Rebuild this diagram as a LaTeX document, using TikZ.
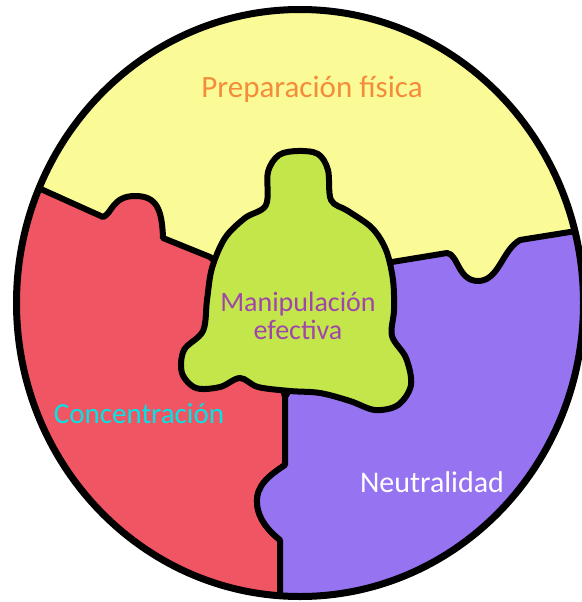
\documentclass[tikz,border=0pt]{standalone}
\usepackage{fontspec}
\setmainfont{Carlito}
\definecolor{yellowpiece}{RGB}{250,250,150}
\definecolor{redpiece}{RGB}{240,85,100}
\definecolor{purplepiece}{RGB}{150,115,240}
\definecolor{greenpiece}{RGB}{195,230,75}
\definecolor{prepcolor}{RGB}{245,140,60}
\definecolor{manicolor}{RGB}{160,70,170}
\definecolor{conccolor}{RGB}{0,230,230}
\usetikzlibrary{calc}

\begin{document}
\begin{tikzpicture}[
    x=1pt, y=-1pt,   % pixel units, y pointing down
    piece/.style={draw=black, line width=6pt, line join=round},
    txt/.style={font=\fontsize{#1}{#1}\selectfont, inner sep=0pt},
    txt/.default=26
]
    \useasboundingbox (0,0) rectangle (581,602);

    % --- Puzzle pieces, clipped to the disc ---
    \begin{scope}
        \clip (300,303) ellipse [x radius=283.5, y radius=293.5];
        \fill[yellowpiece] (0,0) rectangle (620,620);
        % Red piece (left)
        \draw[piece, fill=redpiece] (-20,162) -- (43,190) -- (103,217)
            .. controls (112,214) and (112,196) .. (135,196)
            .. controls (156,196) and (162,208) .. (163,238)
            -- (210,257) -- (260,300) -- (285,397) -- (285,465)
            .. controls (270,475) and (256,485) .. (257,503)
            .. controls (258,520) and (270,532) .. (280,540)
            -- (280,620) -- (-20,620) -- cycle;
        % Purple piece (right)
        \draw[piece, fill=purplepiece] (620,224) -- (520,240)
            .. controls (502,250) and (499,281) .. (478,281)
            .. controls (458,281) and (458,254) .. (447,253)
            -- (392,262) -- (330,320) -- (285,397) -- (285,465)
            .. controls (270,475) and (256,485) .. (257,503)
            .. controls (258,520) and (270,532) .. (280,540)
            -- (280,620) -- (620,620) -- cycle;
    \end{scope}

    % --- Centre piece ---
    \draw[piece, fill=greenpiece] plot[smooth cycle, tension=0.55] coordinates {
        (298,151) (318,154) (328,170) (331,200) (348,211) (372,228)
        (386,250) (393,280) (394,310) (392,336) (406,358) (411,385)
        (398,405) (375,410) (350,401) (320,393) (290,391) (258,387)
        (240,378) (220,387) (196,388) (182,373) (184,350) (203,331)
        (207,300) (212,268) (225,238) (245,218) (266,205) (268,172)
        (279,155)};

    % --- Outer rim ---
    \draw[line width=7pt] (300,303) ellipse [x radius=283.5, y radius=293.5];

    % --- Labels ---
    \node[txt=31, text=prepcolor] (prep) at (312,89) {Preparación física};
    \node[txt=28, text=manicolor, align=center] (mani) at (298,316)
        {Manipulación\\efectiva};
    \node[txt=29, text=conccolor] (conc) at (139,414) {Concentración};
    \node[txt=30, text=white] (neut) at (432,482) {Neutralidad};
\end{tikzpicture}
\end{document}
